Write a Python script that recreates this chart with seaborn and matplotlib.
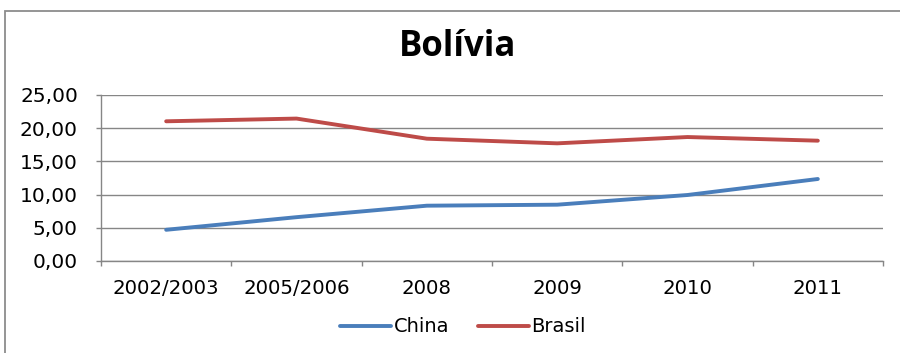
import matplotlib
matplotlib.use("Agg")
import matplotlib.pyplot as plt
from matplotlib.patches import Rectangle
from matplotlib.ticker import FixedLocator, FuncFormatter
import seaborn as sns
import pandas as pd

categories = ["2002/2003", "2005/2006", "2008", "2009", "2010", "2011"]
china = [4.70, 6.60, 8.33, 8.48, 9.94, 12.35]
brasil = [21.04, 21.45, 18.42, 17.72, 18.67, 18.12]
series_names = ["China", "Brasil"]
colors = ["#4A7EBB", "#BE4B48"]

sns.set_theme(style="white")
plt.rcParams["font.family"] = ["DejaVu Sans"]
plt.rcParams["text.color"] = "black"

df = pd.DataFrame({
    "pos": list(range(len(categories))) * 2,
    "valor": china + brasil,
    "serie": ["China"] * len(categories) + ["Brasil"] * len(categories),
})

fig = plt.figure(figsize=(9.0, 3.53), dpi=100)
ax = fig.add_axes([101 / 900, 1 - 261 / 353, (883 - 101) / 900, (261 - 95) / 353])

sns.lineplot(data=df, x="pos", y="valor", hue="serie", hue_order=series_names,
             palette=colors, linewidth=2.8, ax=ax, legend=False)

grid_c = "#868686"
ax.set_xlim(-0.5, len(categories) - 0.5)
ax.set_ylim(0, 25)
ax.yaxis.set_major_locator(FixedLocator([0, 5, 10, 15, 20, 25]))
ax.yaxis.set_major_formatter(FuncFormatter(lambda v, p: f"{v:.2f}".replace(".", ",")))
ax.set_xticks(range(len(categories)))
ax.set_xticklabels(categories)
ax.set_xticks([i - 0.5 for i in range(len(categories) + 1)], minor=True)
ax.grid(axis="y", color=grid_c, linewidth=1.0)
ax.set_axisbelow(True)
for s in ["top", "right"]:
    ax.spines[s].set_visible(False)
for s in ["left", "bottom"]:
    ax.spines[s].set_color(grid_c)
    ax.spines[s].set_linewidth(1.0)
ax.tick_params(axis="x", which="major", length=0, pad=13, labelsize=14.2, labelcolor="black")
ax.tick_params(axis="x", which="minor", length=3.6, color=grid_c, width=1.0, direction="out", bottom=True)
ax.tick_params(axis="y", length=3.6, color=grid_c, width=1.0, direction="out", left=True,
               labelsize=14.5, labelcolor="black", pad=13)
ax.set_xlabel("")
ax.set_ylabel("")

fig.text(458 / 900, 1 - 47 / 353, "Bolívia", ha="center", va="center", color="black",
         fontsize=25, fontweight="bold", family=["Open Sans", "DejaVu Sans"])

# legend below the plot
handles = [plt.Line2D([], [], color=c, linewidth=2.8) for c in colors]
fig.legend(handles, series_names, loc="center", bbox_to_anchor=(463 / 900, 1 - 327 / 353),
           ncol=2, frameon=False, fontsize=14, handlelength=2.6, handletextpad=0.15,
           columnspacing=1.5)

# chart-area frame
fig.patches.append(Rectangle((4.5 / 900, -0.1), 1.2, 1 - 11 / 353 + 0.1,
                             transform=fig.transFigure, fill=False,
                             edgecolor="#8C8C8C", linewidth=1.3))

fig.savefig("out.png", dpi=100, facecolor="white")
